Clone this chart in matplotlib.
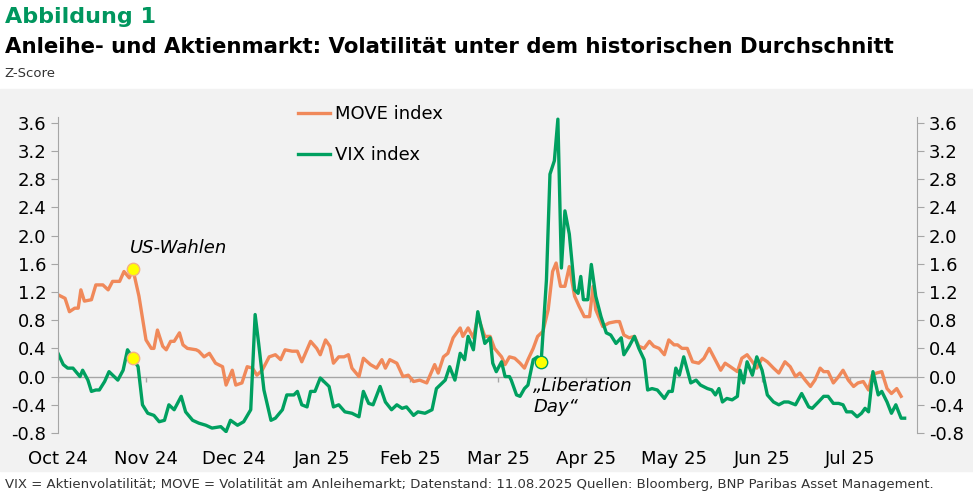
import matplotlib.pyplot as plt
from matplotlib.patches import Rectangle

# x positions in months since 1 Oct 2024
move_t = [0.00, 0.08, 0.13, 0.19, 0.23, 0.26, 0.30, 0.38, 0.43, 0.51, 0.57, 0.62, 0.70, 0.75, 0.81, 0.85,
          0.92, 1.00, 1.06, 1.09, 1.13, 1.19, 1.23, 1.28, 1.32, 1.38, 1.42, 1.47, 1.57, 1.60, 1.66, 1.72,
          1.79, 1.87, 1.91, 1.98, 2.02, 2.09, 2.15, 2.21, 2.26, 2.32, 2.40, 2.47, 2.53, 2.58, 2.66, 2.72,
          2.77, 2.87, 2.94, 2.98, 3.04, 3.09, 3.13, 3.19, 3.25, 3.30, 3.34, 3.42, 3.47, 3.55, 3.62, 3.68,
          3.72, 3.77, 3.85, 3.92, 3.98, 4.04, 4.11, 4.19, 4.28, 4.32, 4.38, 4.43, 4.49, 4.57, 4.60, 4.66,
          4.72, 4.77, 4.85, 4.91, 4.96, 5.04, 5.08, 5.13, 5.19, 5.25, 5.30, 5.34, 5.40, 5.45, 5.51, 5.57,
          5.62, 5.66, 5.71, 5.76, 5.81, 5.87, 5.92, 5.98, 6.04, 6.08, 6.11, 6.19, 6.26, 6.34, 6.38, 6.43,
          6.49, 6.55, 6.60, 6.66, 6.72, 6.77, 6.83, 6.89, 6.94, 7.00, 7.04, 7.09, 7.15, 7.21, 7.28, 7.34,
          7.40, 7.45, 7.53, 7.58, 7.64, 7.72, 7.77, 7.83, 7.89, 7.94, 8.00, 8.06, 8.13, 8.19, 8.26, 8.32,
          8.38, 8.43, 8.49, 8.55, 8.60, 8.66, 8.70, 8.75, 8.81, 8.87, 8.92, 8.98, 9.04, 9.09, 9.15, 9.21,
          9.25, 9.30, 9.36, 9.42, 9.47, 9.53, 9.58]
move_v = [1.16, 1.11, 0.92, 0.97, 0.97, 1.23, 1.07, 1.09, 1.30, 1.30, 1.23, 1.35, 1.35, 1.49, 1.40, 1.53,
          1.14, 0.52, 0.40, 0.40, 0.66, 0.43, 0.38, 0.50, 0.50, 0.62, 0.45, 0.40, 0.38, 0.36, 0.28, 0.33,
          0.19, 0.14, -0.12, 0.09, -0.12, -0.09, 0.14, 0.12, 0.02, 0.09, 0.28, 0.31, 0.24, 0.38, 0.36, 0.36,
          0.21, 0.50, 0.40, 0.31, 0.52, 0.43, 0.19, 0.28, 0.28, 0.31, 0.12, 0.00, 0.26, 0.17, 0.12, 0.24,
          0.12, 0.24, 0.19, 0.00, 0.02, -0.07, -0.05, -0.09, 0.17, 0.05, 0.28, 0.33, 0.55, 0.69, 0.57, 0.69,
          0.55, 0.85, 0.57, 0.57, 0.40, 0.28, 0.17, 0.28, 0.26, 0.19, 0.12, 0.24, 0.40, 0.57, 0.64, 0.95,
          1.49, 1.61, 1.28, 1.28, 1.56, 1.14, 1.00, 0.85, 0.85, 1.28, 0.95, 0.71, 0.76, 0.78, 0.78, 0.59,
          0.55, 0.57, 0.43, 0.40, 0.50, 0.43, 0.40, 0.31, 0.52, 0.45, 0.45, 0.40, 0.40, 0.21, 0.19, 0.26,
          0.40, 0.28, 0.09, 0.19, 0.14, 0.07, 0.26, 0.31, 0.21, 0.12, 0.26, 0.21, 0.12, 0.05, 0.21, 0.14,
          0.00, 0.05, -0.05, -0.14, -0.05, 0.12, 0.07, 0.07, -0.09, 0.00, 0.09, -0.05, -0.14, -0.09, -0.07, -0.19,
          0.02, 0.05, 0.07, -0.17, -0.24, -0.17, -0.28]

vix_t = [0.00, 0.06, 0.11, 0.17, 0.25, 0.28, 0.34, 0.38, 0.43, 0.47, 0.53, 0.58, 0.68, 0.74, 0.79, 0.85,
         0.91, 0.96, 1.02, 1.09, 1.15, 1.21, 1.26, 1.32, 1.40, 1.45, 1.53, 1.60, 1.68, 1.75, 1.85, 1.91,
         1.96, 2.04, 2.11, 2.19, 2.24, 2.28, 2.34, 2.42, 2.47, 2.55, 2.60, 2.68, 2.72, 2.77, 2.83, 2.87,
         2.92, 2.98, 3.08, 3.13, 3.19, 3.26, 3.34, 3.42, 3.47, 3.53, 3.58, 3.66, 3.72, 3.79, 3.85, 3.91,
         3.96, 4.04, 4.09, 4.17, 4.25, 4.30, 4.40, 4.45, 4.51, 4.57, 4.62, 4.66, 4.72, 4.77, 4.85, 4.91,
         4.94, 4.98, 5.04, 5.08, 5.13, 5.15, 5.21, 5.25, 5.30, 5.34, 5.40, 5.45, 5.49, 5.55, 5.59, 5.64,
         5.68, 5.72, 5.76, 5.81, 5.87, 5.91, 5.94, 5.97, 6.02, 6.06, 6.11, 6.17, 6.23, 6.28, 6.34, 6.40,
         6.43, 6.49, 6.55, 6.60, 6.66, 6.70, 6.75, 6.81, 6.89, 6.94, 6.98, 7.02, 7.06, 7.11, 7.19, 7.25,
         7.30, 7.38, 7.43, 7.47, 7.51, 7.55, 7.60, 7.66, 7.72, 7.75, 7.79, 7.83, 7.89, 7.94, 8.00, 8.06,
         8.13, 8.19, 8.25, 8.30, 8.38, 8.45, 8.53, 8.57, 8.64, 8.70, 8.75, 8.81, 8.87, 8.92, 8.96, 9.02,
         9.08, 9.13, 9.17, 9.21, 9.26, 9.32, 9.36, 9.42, 9.47, 9.52, 9.58, 9.62]
vix_v = [0.33, 0.17, 0.12, 0.12, 0.00, 0.09, -0.05, -0.21, -0.19, -0.19, -0.07, 0.07, -0.05, 0.09, 0.38, 0.26,
         0.14, -0.40, -0.52, -0.55, -0.64, -0.62, -0.40, -0.47, -0.28, -0.50, -0.62, -0.66, -0.69, -0.73, -0.71, -0.78,
         -0.62, -0.69, -0.64, -0.47, 0.88, 0.47, -0.19, -0.62, -0.59, -0.47, -0.26, -0.26, -0.21, -0.40, -0.43, -0.21,
         -0.21, -0.02, -0.14, -0.43, -0.40, -0.50, -0.52, -0.57, -0.21, -0.38, -0.40, -0.14, -0.36, -0.47, -0.40, -0.45,
         -0.43, -0.55, -0.50, -0.52, -0.47, -0.17, -0.05, 0.14, -0.05, 0.33, 0.24, 0.57, 0.38, 0.92, 0.47, 0.55,
         0.19, 0.07, 0.21, 0.00, 0.00, -0.05, -0.26, -0.28, -0.17, -0.12, 0.24, 0.28, 0.21, 1.37, 2.87, 3.06,
         3.65, 1.54, 2.35, 2.02, 1.23, 1.18, 1.42, 1.09, 1.09, 1.59, 1.14, 0.85, 0.62, 0.59, 0.47, 0.55,
         0.31, 0.43, 0.57, 0.40, 0.24, -0.19, -0.17, -0.19, -0.31, -0.21, -0.21, 0.12, 0.02, 0.28, -0.09, -0.05,
         -0.12, -0.17, -0.19, -0.26, -0.17, -0.36, -0.31, -0.33, -0.28, 0.09, -0.09, 0.21, 0.02, 0.28, 0.09, -0.26,
         -0.36, -0.40, -0.36, -0.36, -0.40, -0.24, -0.43, -0.45, -0.36, -0.28, -0.28, -0.38, -0.38, -0.40, -0.50, -0.50,
         -0.57, -0.52, -0.45, -0.50, 0.07, -0.26, -0.21, -0.36, -0.52, -0.40, -0.59, -0.59]

month_labels = ['Oct 24', 'Nov 24', 'Dec 24', 'Jan 25', 'Feb 25', 'Mar 25', 'Apr 25', 'May 25', 'Jun 25', 'Jul 25']
yticks = [-0.8, -0.4, 0.0, 0.4, 0.8, 1.2, 1.6, 2.0, 2.4, 2.8, 3.2, 3.6]

ORANGE = '#f0895a'
GREEN = '#00a060'

plt.rcParams['font.family'] = 'DejaVu Sans'
fig = plt.figure(figsize=(9.73, 4.96), dpi=100)
fig.patches.append(Rectangle((0, 0.05), 1, 0.77, transform=fig.transFigure, color='#f2f2f2', zorder=-10))

ax = fig.add_axes([0.0596, 0.127, 0.8828, 0.637])
ax.set_facecolor('none')
ax.plot(move_t, move_v, color=ORANGE, lw=2.4, label='MOVE index')
ax.plot(vix_t, vix_v, color=GREEN, lw=2.4, label='VIX index')
ax.axhline(0, color='#a6a6a6', lw=1, zorder=0)
ax.vlines(range(len(month_labels)), -0.07, 0, color='#a6a6a6', lw=1, zorder=0)

# event markers
ax.scatter([move_t[15]], [move_v[15]], s=80, color='#ffff00', edgecolor='#f4b183', lw=1, zorder=5)
ax.scatter([vix_t[15]], [vix_v[15]], s=80, color='#ffff00', edgecolor='#f4b183', lw=1, zorder=5)
ax.scatter([vix_t[92]], [vix_v[92]], s=80, color='#ffff00', edgecolor=GREEN, lw=1, zorder=5)
ax.text(0.82, 1.75, 'US-Wahlen', style='italic', fontsize=13)
ax.text(5.4, 0.0, '„Liberation\nDay“', style='italic', fontsize=13, va='top', linespacing=1.25)

ax.set_xlim(0, 9.76)
ax.set_ylim(-0.8, 3.68)
ax.set_yticks(yticks)
ax.set_yticklabels([f'{v:.1f}' for v in yticks])
ax.set_xticks(range(len(month_labels)))
ax.set_xticklabels(month_labels)
ax.tick_params(axis='x', length=0, pad=12, labelsize=13)
ax.tick_params(axis='y', which='both', left=True, right=True, labelleft=True, labelright=True,
               length=5, color='#a6a6a6', labelsize=13)
for s in ['top', 'bottom']:
    ax.spines[s].set_visible(False)
for s in ['left', 'right']:
    ax.spines[s].set_color('#a6a6a6')

ax.legend(loc='upper left', bbox_to_anchor=(0.26, 1.09), frameon=False, fontsize=13,
          handlelength=1.8, handletextpad=0.3, labelspacing=1.3)

fig.text(0.005, 0.965, 'Abbildung 1', color='#00965e', fontsize=16, weight='bold', va='center')
fig.text(0.005, 0.905, 'Anleihe- und Aktienmarkt: Volatilität unter dem historischen Durchschnitt',
         fontsize=15.3, weight='bold', va='center')
fig.text(0.005, 0.851, 'Z-Score', fontsize=9.5, color='#333333', va='center')
fig.text(0.005, 0.024, 'VIX = Aktienvolatilität; MOVE = Volatilität am Anleihemarkt; Datenstand: 11.08.2025 '
         'Quellen: Bloomberg, BNP Paribas Asset Management.', fontsize=9.5, color='#333333', va='center')

fig.savefig('out.png', dpi=100)
